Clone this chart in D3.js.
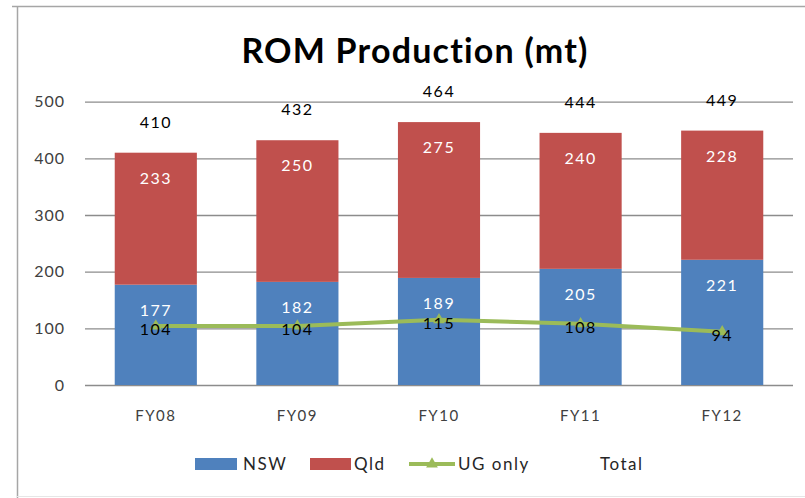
<!DOCTYPE html>
<html>
<head>
<meta charset="utf-8">
<script src="https://cdn.jsdelivr.net/npm/d3@7"></script>
<style>
  html, body { margin: 0; padding: 0; background: #fff; }
  svg { display: block; font-family: Lato, "Open Sans", sans-serif; }
</style>
</head>
<body>
<svg id="chart" width="805" height="498"></svg>
<script>
// ROM production by state, million tonnes
const categories = ["FY08", "FY09", "FY10", "FY11", "FY12"];
const nsw = [177, 182, 189, 205, 221];
const qld = [233, 250, 275, 240, 228];
const ugOnly = [104, 104, 115, 108, 94];
const total = [410, 432, 464, 444, 449];
const yTicks = [0, 100, 200, 300, 400, 500];

const colors = { nsw: "#4F81BD", qld: "#C0504D", ug: "#9BBB59" };
const fontFamily = "Lato, 'Open Sans', sans-serif";

const svg = d3.select("#chart");

// outer chart frame
svg.append("line").attr("x1", 12).attr("x2", 805).attr("y1", 6.5).attr("y2", 6.5)
  .attr("stroke", "#a6a6a6").attr("stroke-width", 1.5);
svg.append("line").attr("x1", 17.5).attr("x2", 17.5).attr("y1", 6).attr("y2", 498)
  .attr("stroke", "#a6a6a6").attr("stroke-width", 1.5);
svg.append("line").attr("x1", 17).attr("x2", 805).attr("y1", 496.5).attr("y2", 496.5)
  .attr("stroke", "#e6e6e6").attr("stroke-width", 1);

// title
svg.append("text").attr("x", 415).attr("y", 63).attr("text-anchor", "middle")
  .attr("font-size", 34).attr("font-weight", "bold").attr("fill", "#000")
  .attr("letter-spacing", 1.2)
  .text("ROM Production (mt)");

const x = d3.scaleBand().domain(categories).range([85, 793])
  .paddingInner(0.42).paddingOuter(0.21);
const y = d3.scaleLinear().domain([0, 500]).range([385, 101.7]);

// gridlines + y labels
const yAxis = d3.axisLeft(y).tickValues(yTicks).tickSize(-(793 - 85)).tickPadding(20);
const gy = svg.append("g").attr("transform", "translate(85,0)").call(yAxis);
gy.select(".domain").remove();
gy.selectAll(".tick line").attr("stroke", "#8c8c8c").attr("stroke-width", 1.3);
gy.selectAll(".tick text").attr("font-size", 16).attr("fill", "#404040")
  .attr("letter-spacing", 1).attr("font-family", fontFamily);

// x labels
const xAxis = d3.axisBottom(x).tickSize(0).tickPadding(25);
const gx = svg.append("g").attr("transform", "translate(0,385)").call(xAxis);
gx.select(".domain").remove();
gx.selectAll(".tick text").attr("font-size", 15).attr("fill", "#404040")
  .attr("letter-spacing", 1.5).attr("font-family", fontFamily);

// stacked bars
const rows = categories.map((c, i) => ({ cat: c, nsw: nsw[i], qld: qld[i] }));
const stack = d3.stack().keys(["nsw", "qld"])(rows);
const layers = svg.append("g").selectAll("g").data(stack).join("g")
  .attr("fill", d => colors[d.key]);
layers.selectAll("rect").data(d => d).join("rect")
  .attr("x", d => x(d.data.cat))
  .attr("width", x.bandwidth())
  .attr("y", d => y(d[1]))
  .attr("height", d => y(d[0]) - y(d[1]));

// segment labels, inside end
layers.selectAll("text").data(d => d.map(v => ({ v, key: d.key }))).join("text")
  .attr("x", d => x(d.v.data.cat) + x.bandwidth() / 2)
  .attr("y", d => y(d.v[1]) + 31)
  .attr("text-anchor", "middle").attr("font-size", 16).attr("fill", "#fff")
  .attr("letter-spacing", 1.5)
  .text(d => d.v.data[d.key]);

// total labels above the stacks
svg.append("g").selectAll("text").data(categories).join("text")
  .attr("x", c => x(c) + x.bandwidth() / 2)
  .attr("y", (c, i) => y(total[i]) - 25)
  .attr("text-anchor", "middle").attr("font-size", 16).attr("fill", "#000")
  .attr("letter-spacing", 1.5)
  .text((c, i) => total[i]);

// UG only line
const cx = c => x(c) + x.bandwidth() / 2;
const line = d3.line().x((d, i) => cx(categories[i])).y(d => y(d));
svg.append("path").datum(ugOnly).attr("d", line)
  .attr("fill", "none").attr("stroke", colors.ug).attr("stroke-width", 4)
  .attr("stroke-linejoin", "round");
const tri = d3.symbol().type(d3.symbolTriangle).size(60);
svg.append("g").selectAll("path").data(ugOnly).join("path")
  .attr("d", tri)
  .attr("transform", (d, i) => `translate(${cx(categories[i])},${y(d)})`)
  .attr("fill", colors.ug);
svg.append("g").selectAll("text").data(ugOnly).join("text")
  .attr("x", (d, i) => cx(categories[i]))
  .attr("y", d => y(d) + 9)
  .attr("text-anchor", "middle").attr("font-size", 16).attr("fill", "#000")
  .attr("letter-spacing", 1.5)
  .text(d => d);

// legend
const lg = svg.append("g").attr("font-size", 17).attr("fill", "#262626")
  .attr("letter-spacing", 1.5);
lg.append("rect").attr("x", 195).attr("y", 458).attr("width", 42).attr("height", 12).attr("fill", colors.nsw);
lg.append("text").attr("x", 243).attr("y", 470).text("NSW");
lg.append("rect").attr("x", 310).attr("y", 458).attr("width", 41).attr("height", 12).attr("fill", colors.qld);
lg.append("text").attr("x", 354).attr("y", 470).text("Qld");
lg.append("line").attr("x1", 409).attr("x2", 455).attr("y1", 464).attr("y2", 464)
  .attr("stroke", colors.ug).attr("stroke-width", 4);
lg.append("path").attr("d", tri).attr("transform", "translate(432,464)").attr("fill", colors.ug);
lg.append("text").attr("x", 458).attr("y", 470).text("UG only");
lg.append("text").attr("x", 600).attr("y", 470).text("Total");
</script>
</body>
</html>
